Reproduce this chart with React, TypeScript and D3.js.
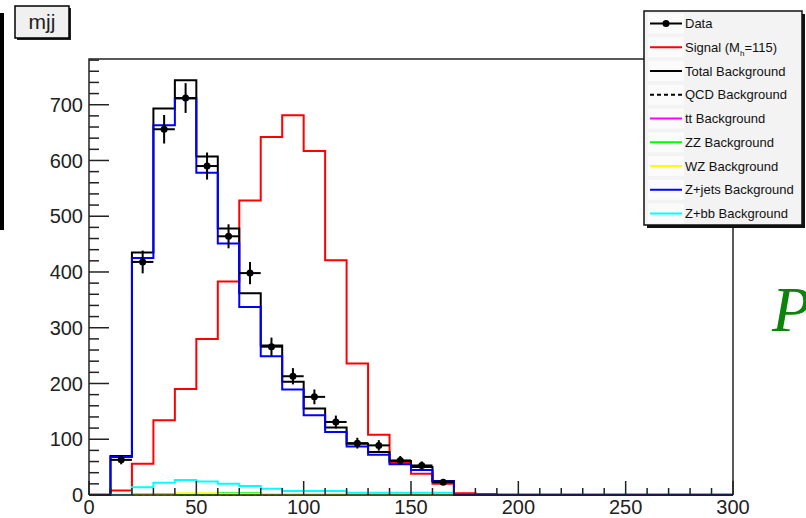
import * as d3 from "d3";

// m_jj histogram, 10 GeV bins. Background + data arrays start at 10 GeV.
const BIN_WIDTH = 10;
const BKG_START = 10;
const SIGNAL_START = 0;

const dataCounts = [63, 418, 656, 712, 590, 464, 398, 266, 213, 176, 131, 93, 89, 62, 53, 23];
const totalBkg = [70, 435, 693, 744, 607, 478, 362, 268, 203, 155, 121, 92, 77, 61, 50, 25];
const zjetsBkg = [68, 425, 663, 711, 578, 451, 337, 249, 189, 143, 113, 87, 72, 55, 45, 24];
const zbbBkg = [0, 14, 22, 27, 24, 20, 16, 11, 7, 7, 7, 4, 4, 4, 4, 4];
const qcdBkg = [0, 0, 0, 1, 1, 1, 1, 1, 1, 1, 1, 0, 0, 0, 0, 0];
const ttBkg = [0, 1, 2, 1, 1, 1, 1, 1, 1, 0, 0, 0, 0, 0, 0, 0];
const zzBkg = [0, 2, 1, 2, 2, 3, 3, 2, 1, 1, 1, 0, 0, 0, 0, 0];
const wzBkg = [1, 1, 1, 3, 3, 2, 2, 2, 2, 2, 2, 1, 1, 1, 1, 1];
// signal (M_h = 115), from 0 to 300
const signalMh115 = [1, 8, 56, 134, 190, 280, 383, 528, 642, 681, 617, 421, 236, 108, 58, 38, 20, 3, 2, 1, 1, 1, 1, 1, 1, 1, 1, 1, 1, 1];

const xTickLabels = [0, 50, 100, 150, 200, 250, 300];
const yTickLabels = [0, 100, 200, 300, 400, 500, 600, 700];

const legendLabels = [
  "Data",
  "Signal",
  "Total Background",
  "QCD Background",
  "tt Background",
  "ZZ Background",
  "WZ Background",
  "Z+jets Background",
  "Z+bb Background",
];

const FONT = "'Liberation Sans', Arial, Helvetica, sans-serif";
const N_BINS = 30;

// pad a bin array out to the full 0-300 range
function fullBins(values: number[], start: number) {
  const first = start / BIN_WIDTH;
  return d3.range(N_BINS).map((i) => (i >= first && i - first < values.length ? values[i - first] : 0));
}

const App = () => {
  const x = d3.scaleLinear().domain([0, 300]).range([89, 733]);
  const y = d3.scaleLinear().domain([0, 782]).range([495, 59]);

  const stepLine = d3
    .line<[number, number]>()
    .x((d) => x(d[0]))
    .y((d) => y(d[1]));

  const histPath = (values: number[], start: number) => {
    const bins = fullBins(values, start);
    const pts: [number, number][] = [];
    bins.forEach((v, i) => {
      pts.push([i * BIN_WIDTH, v]);
      pts.push([(i + 1) * BIN_WIDTH, v]);
    });
    return stepLine(pts) || "";
  };

  const hists = [
    { values: signalMh115, start: SIGNAL_START, color: "#ff0000", dash: undefined },
    { values: totalBkg, start: BKG_START, color: "#000000", dash: undefined },
    { values: qcdBkg, start: BKG_START, color: "#000000", dash: "4 3" },
    { values: ttBkg, start: BKG_START, color: "#ff00ff", dash: undefined },
    { values: zzBkg, start: BKG_START, color: "#00ff00", dash: undefined },
    { values: wzBkg, start: BKG_START, color: "#ffff00", dash: undefined },
    { values: zbbBkg, start: BKG_START, color: "#00ffff", dash: undefined },
    { values: zjetsBkg, start: BKG_START, color: "#0000ff", dash: undefined },
  ];

  const yMinor = d3.range(0, 781, 20).filter((v) => v % 100 !== 0);
  const xMinor = d3.range(0, 301, 10).filter((v) => v % 50 !== 0);

  const legendItems = [
    { color: "#000", dash: undefined, marker: true },
    { color: "#ff0000", dash: undefined },
    { color: "#000", dash: undefined },
    { color: "#000", dash: "4 3" },
    { color: "#ff00ff", dash: undefined },
    { color: "#00ff00", dash: undefined },
    { color: "#ffff00", dash: undefined },
    { color: "#0000ff", dash: undefined },
    { color: "#00ffff", dash: undefined },
  ];

  return (
    <svg
      width={806}
      height={518}
      style={{ position: "absolute", left: 0, top: 0, display: "block", background: "#fff" }}
      fontFamily={FONT}
    >
      {/* edge of the neighbouring pad */}
      <rect x={0} y={13} width={4} height={217} fill="#000" />

      {/* title box */}
      <rect x={17} y={8} width={54} height={32} fill="#222" />
      <rect x={15} y={6} width={54} height={32} fill="#f0f0f0" stroke="#000" strokeWidth={1.5} />
      <text x={42} y={29} fontSize={21} textAnchor="middle" fill="#222">
        mjj
      </text>

      {/* histograms */}
      {hists.map((h, i) => (
        <path
          key={i}
          d={histPath(h.values, h.start)}
          fill="none"
          stroke={h.color}
          strokeWidth={2}
          strokeDasharray={h.dash}
        />
      ))}

      {/* data points with errors */}
      {dataCounts.map((v, i) => {
        const lo = BKG_START + i * BIN_WIDTH;
        const cx = x(lo + BIN_WIDTH / 2);
        const err = Math.sqrt(v);
        return (
          <g key={i} stroke="#000" strokeWidth={2}>
            <line x1={x(lo)} x2={x(lo + BIN_WIDTH)} y1={y(v)} y2={y(v)} />
            <line x1={cx} x2={cx} y1={y(v - err)} y2={y(v + err)} />
            <circle cx={cx} cy={y(v)} r={3.5} fill="#000" stroke="none" />
          </g>
        );
      })}

      {/* frame */}
      <path d={`M${x(0)},${y(0)}V59H${x(300)}V${y(0)}`} fill="none" stroke="#222" strokeWidth={1.5} />
      <line x1={x(0)} x2={x(300)} y1={y(0)} y2={y(0)} stroke="#222" strokeWidth={1.5} />

      {/* y axis ticks */}
      {yTickLabels.map((v) => (
        <g key={v}>
          <line x1={x(0)} x2={x(0) + 20} y1={y(v)} y2={y(v)} stroke="#222" strokeWidth={1.5} />
          <text x={83} y={y(v)} dy="0.36em" fontSize={20} textAnchor="end" fill="#222">
            {v}
          </text>
        </g>
      ))}
      {yMinor.map((v) => (
        <line key={v} x1={x(0)} x2={x(0) + 10} y1={y(v)} y2={y(v)} stroke="#222" strokeWidth={1.5} />
      ))}

      {/* x axis ticks */}
      {xTickLabels.map((v) => (
        <g key={v}>
          <line x1={x(v)} x2={x(v)} y1={y(0)} y2={y(0) - 14} stroke="#222" strokeWidth={1.5} />
          <text x={x(v)} y={514} fontSize={20} textAnchor="middle" fill="#222">
            {v}
          </text>
        </g>
      ))}
      {xMinor.map((v) => (
        <line key={v} x1={x(v)} x2={x(v)} y1={y(0)} y2={y(0) - 7} stroke="#222" strokeWidth={1.5} />
      ))}

      {/* legend */}
      <rect x={647} y={14} width={158} height={214} fill="#111" />
      <rect x={644} y={11} width={158} height={214} fill="#f3f3f3" stroke="#111" strokeWidth={1.5} />
      {legendItems.map((it, i) => {
        const cy = 23.5 + i * 23.75;
        return (
          <g key={i}>
            <rect x={648} y={cy - 10} width={36} height={20} fill="#fbfbfb" />
            <line x1={650} x2={682} y1={cy} y2={cy} stroke={it.color} strokeWidth={2} strokeDasharray={it.dash} />
            {it.marker && <circle cx={666} cy={cy} r={3.5} fill="#000" />}
            <text x={685} y={cy} dy="0.35em" fontSize={13} fill="#111" textLength={undefined}>
              {legendLabels[i]}
              {i === 1 && (
                <>
                  {" (M"}
                  <tspan dy={4} fontSize={8}>
                    h
                  </tspan>
                  <tspan dy={-4}>=115)</tspan>
                </>
              )}
            </text>
          </g>
        );
      })}

      {/* clipped label from the neighbouring pad */}
      <text x={772} y={331} fontSize={64} fontStyle="italic" fontFamily="'Liberation Serif', 'Times New Roman', serif" fill="#0a850a">
        P
      </text>
    </svg>
  );
};

export default App;
